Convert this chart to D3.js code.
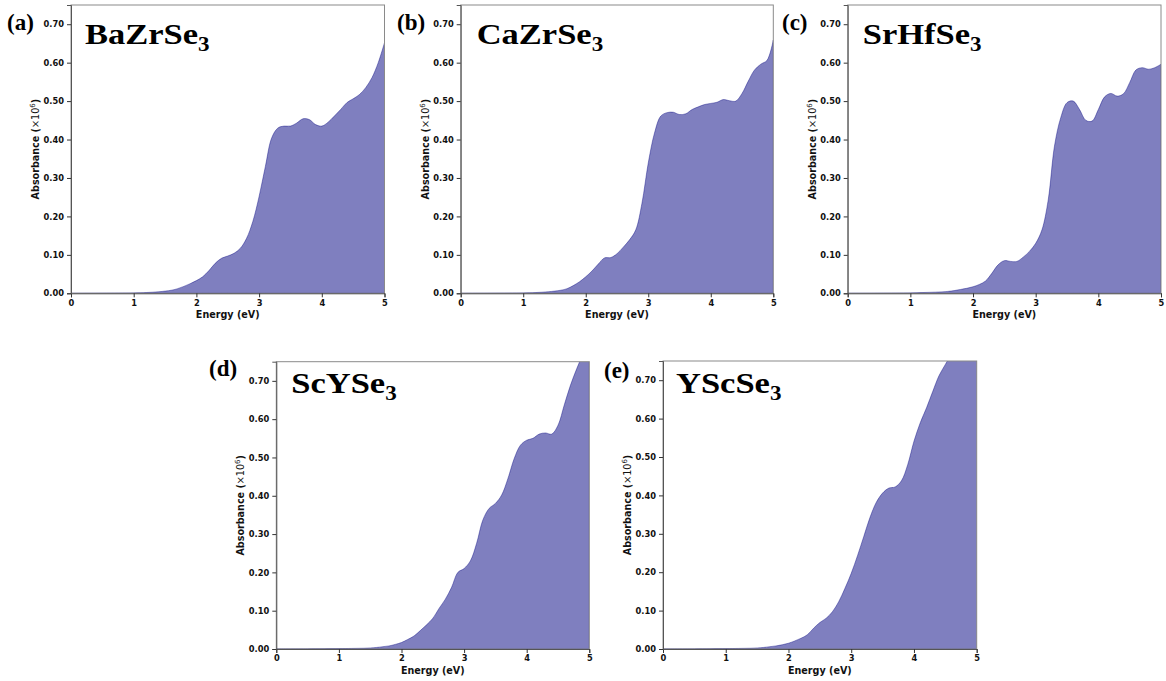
<!DOCTYPE html>
<html>
<head>
<meta charset="utf-8">
<script src="https://cdn.jsdelivr.net/npm/d3@7"></script>
<style>
body { margin: 0; background: #fff; }
svg { display: block; }
</style>
</head>
<body>
<svg></svg>
<script>
// photon energy grid (eV)
var energy = [0, 0.5, 1.0, 1.2, 1.4, 1.6, 1.7, 1.8, 1.9,
  2.0, 2.1, 2.2, 2.3, 2.4, 2.5, 2.6, 2.7, 2.8, 2.9,
  3.0, 3.1, 3.2, 3.3, 3.4, 3.5, 3.6, 3.7, 3.8, 3.9,
  4.0, 4.1, 4.2, 4.3, 4.4, 4.5, 4.6, 4.7, 4.8, 4.9, 5.0];

// absorbance (x10^6)
var baZrSe3 = [0, 0.0003, 0.001, 0.002, 0.004, 0.008, 0.012, 0.018, 0.025,
  0.033, 0.043, 0.059, 0.078, 0.091, 0.097, 0.104, 0.117, 0.143, 0.187,
  0.252, 0.330, 0.404, 0.430, 0.435, 0.435, 0.443, 0.454, 0.452, 0.439,
  0.435, 0.445, 0.461, 0.478, 0.496, 0.506, 0.517, 0.535, 0.561, 0.600, 0.652];
var caZrSe3 = [0, 0.0003, 0.001, 0.002, 0.004, 0.008, 0.012, 0.020, 0.030,
  0.043, 0.058, 0.076, 0.092, 0.093, 0.103, 0.120, 0.139, 0.165, 0.235,
  0.339, 0.417, 0.461, 0.470, 0.471, 0.465, 0.467, 0.478, 0.485, 0.491,
  0.494, 0.497, 0.504, 0.501, 0.500, 0.520, 0.552, 0.581, 0.596, 0.606, 0.659];
var srHfSe3 = [0, 0.0003, 0.001, 0.002, 0.003, 0.005, 0.007, 0.010, 0.013,
  0.017, 0.023, 0.032, 0.052, 0.074, 0.085, 0.083, 0.083, 0.094, 0.109,
  0.130, 0.165, 0.243, 0.383, 0.457, 0.496, 0.500, 0.478, 0.450, 0.448,
  0.478, 0.511, 0.520, 0.513, 0.519, 0.548, 0.581, 0.587, 0.583, 0.587, 0.596];
var scYSe3 = [0, 0.0003, 0.001, 0.0015, 0.002, 0.004, 0.006, 0.008, 0.012,
  0.017, 0.025, 0.034, 0.048, 0.063, 0.080, 0.106, 0.130, 0.161, 0.200,
  0.210, 0.230, 0.276, 0.337, 0.367, 0.380, 0.402, 0.445, 0.497, 0.532,
  0.545, 0.550, 0.561, 0.564, 0.561, 0.584, 0.637, 0.689, 0.732, 0.770, 0.800];
var yScSe3 = [0, 0.0003, 0.001, 0.0015, 0.002, 0.004, 0.006, 0.008, 0.011,
  0.015, 0.021, 0.028, 0.037, 0.054, 0.069, 0.080, 0.097, 0.123, 0.158,
  0.197, 0.243, 0.293, 0.343, 0.382, 0.406, 0.419, 0.422, 0.438, 0.480,
  0.541, 0.589, 0.628, 0.671, 0.712, 0.741, 0.770, 0.800, 0.830, 0.860, 0.890];

var series = [baZrSe3, caZrSe3, srHfSe3, scYSe3, yScSe3];
var names = ["BaZrSe", "CaZrSe", "SrHfSe", "ScYSe", "YScSe"];
var letters = ["(a)", "(b)", "(c)", "(d)", "(e)"];
var xTicks = [0, 1, 2, 3, 4, 5];
var yTicks = [0, 0.1, 0.2, 0.3, 0.4, 0.5, 0.6, 0.7];

// panel boxes and label offsets
var panels = [
  {l: 71, r: 384.5, t: 5, b: 293.3, lx: 7, ly: 29.5, tx: 14, ty: 39},
  {l: 460.7, r: 773.3, t: 5, b: 293.3, lx: 397, ly: 29.5, tx: 16, ty: 39},
  {l: 847.7, r: 1161, t: 5, b: 293.3, lx: 782, ly: 29.5, tx: 15, ty: 39},
  {l: 276.3, r: 589.3, t: 361.7, b: 649, lx: 209, ly: 376, tx: 15, ty: 31.5},
  {l: 663, r: 976.7, t: 361, b: 649, lx: 604, ly: 378, tx: 13, ty: 32}
];

var svg = d3.select("svg")
  .attr("width", 1166)
  .attr("height", 681);

svg.append("rect").attr("width", 1166).attr("height", 681).attr("fill", "#fff");

panels.forEach(function(p, i) {
  var x = d3.scaleLinear().domain([0, 5]).range([p.l, p.r]);
  var y = d3.scaleLinear().domain([0, 0.75]).range([p.b, p.t]);
  var vals = series[i];

  var g = svg.append("g");

  g.append("clipPath").attr("id", "clip" + i)
    .append("rect")
    .attr("x", p.l).attr("y", p.t)
    .attr("width", p.r - p.l).attr("height", p.b - p.t);

  var area = d3.area()
    .x(function(d, j) { return x(energy[j]); })
    .y0(y(0))
    .y1(function(d) { return y(Math.max(0, d)); })
    .curve(d3.curveCatmullRom.alpha(0.5));

  g.append("path")
    .datum(vals)
    .attr("clip-path", "url(#clip" + i + ")")
    .attr("d", area)
    .attr("fill", "navy")
    .attr("fill-opacity", 0.5)
    .attr("stroke", "navy")
    .attr("stroke-opacity", 0.5)
    .attr("stroke-width", 0.8);

  // frame
  g.append("rect")
    .attr("x", p.l).attr("y", p.t)
    .attr("width", p.r - p.l).attr("height", p.b - p.t)
    .attr("fill", "none")
    .attr("stroke", "#8a8a8a")
    .attr("stroke-width", 1);

  var xAxis = g.append("g")
    .attr("transform", "translate(0," + p.b + ")")
    .call(d3.axisBottom(x).tickValues(xTicks).tickFormat(d3.format("d")).tickSize(4).tickPadding(2.5));
  var yAxis = g.append("g")
    .attr("transform", "translate(" + p.l + ",0)")
    .call(d3.axisLeft(y).tickValues(yTicks).tickFormat(d3.format(".2f")).tickSize(4).tickPadding(3));

  [xAxis, yAxis].forEach(function(a) {
    a.select(".domain").attr("stroke", "#555");
    a.selectAll(".tick line").attr("stroke", "#333");
    a.selectAll(".tick text")
      .attr("fill", "#111")
      .style("font-family", "'DejaVu Sans', sans-serif")
      .style("font-weight", "bold")
      .style("font-size", "8.3px");
  });

  g.append("text")
    .attr("x", (p.l + p.r) / 2)
    .attr("y", p.b + 24.5)
    .attr("text-anchor", "middle")
    .style("font-family", "'DejaVu Sans', sans-serif")
    .style("font-weight", "bold")
    .style("font-size", "9.6px")
    .attr("fill", "#111")
    .text("Energy (eV)");

  var yl = g.append("text")
    .attr("transform", "translate(" + (p.l - 32) + "," + ((p.t + p.b) / 2) + ") rotate(-90)")
    .attr("text-anchor", "middle")
    .style("font-family", "'DejaVu Sans', sans-serif")
    .style("font-size", "9.6px")
    .attr("fill", "#111");
  yl.append("tspan").style("font-weight", "bold").text("Absorbance (");
  yl.append("tspan").text("×10");
  yl.append("tspan").attr("dy", -4).style("font-size", "7px").text("6");
  yl.append("tspan").attr("dy", 4).style("font-weight", "bold").text(")");

  g.append("text")
    .attr("x", p.lx)
    .attr("y", p.ly)
    .style("font-family", "'Liberation Serif', 'Times New Roman', serif")
    .style("font-weight", "bold")
    .style("font-size", "23px")
    .attr("fill", "#000")
    .text(letters[i]);

  var tt = g.append("text")
    .attr("transform", "translate(" + (p.l + p.tx) + "," + (p.t + p.ty) + ") scale(1.15,1)")
    .style("font-family", "'Liberation Serif', 'Times New Roman', serif")
    .style("font-weight", "bold")
    .style("font-size", "30px")
    .attr("fill", "#000");
  tt.append("tspan").text(names[i]);
  tt.append("tspan").attr("dy", 7).style("font-size", "20px").text("3");
});
</script>
</body>
</html>
